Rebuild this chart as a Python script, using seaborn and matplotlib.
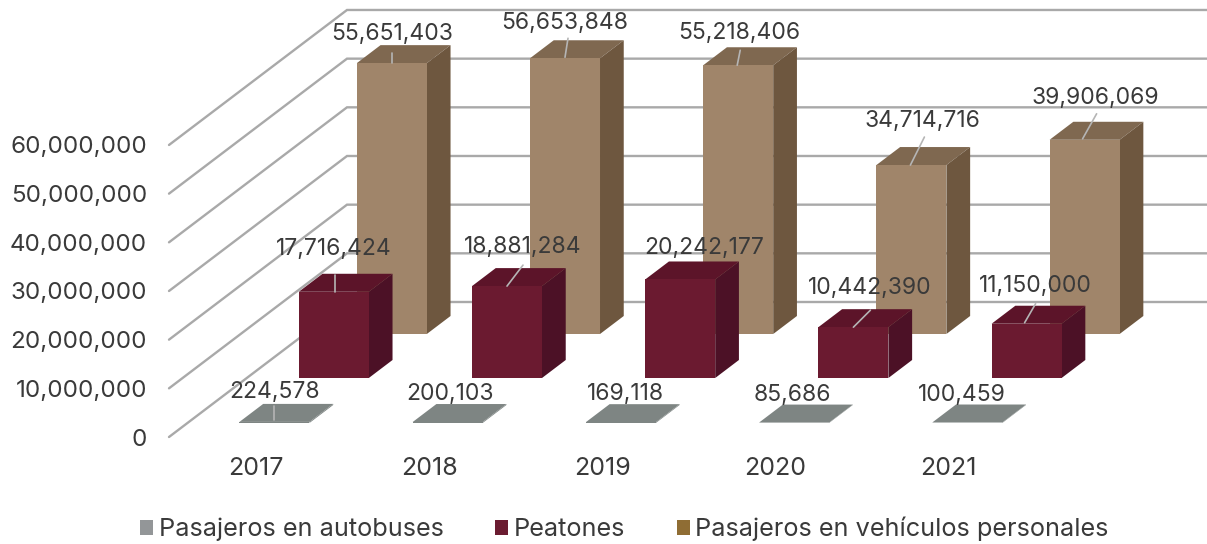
import matplotlib
matplotlib.use("Agg")
import matplotlib.pyplot as plt
import matplotlib.ticker as mticker
from matplotlib.patches import Patch, Polygon
from matplotlib.transforms import ScaledTranslation
import pandas as pd
import seaborn as sns

# ---- data ----
years = ["2017", "2018", "2019", "2020", "2021"]
autobuses = [224578, 200103, 169118, 85686, 100459]
peatones = [17716424, 18881284, 20242177, 10442390, 11150000]
vehiculos = [55651403, 56653848, 55218406, 34714716, 39906069]
series_names = ["Pasajeros en autobuses", "Peatones", "Pasajeros en vehículos personales"]
y_ticks = [0, 10000000, 20000000, 30000000, 40000000, 50000000, 60000000]

# ---- styles / layout ----
W, H = 1207, 544
PX_PER_CAT = 173.2
PX_PER_UNIT = 4.867e-6
X0_PX, Y0_PX = 256, 437
DEPTH_DX, DEPTH_DY = 178, 135
BAR_PX = 70
slot_px = [14, 59, 103]
thick_px = 18
grid_c = "#a9a9a9"
text_c = "#3a3a3a"
front = ["#7e8583", "#6b1a30", "#a0856a"]
top = ["#7e8583", "#5c1429", "#7f6850"]
side = ["#7e8583", "#4c1126", "#6e573f"]
legend_c = ["#939698", "#6b1c31", "#8f6d34"]

label_off = [
    [(0, 30), (2, 28), (5, 28), (-2, 28), (-5, 28)],
    [(0, 43), (16, 39), (24, 31), (16, 39), (9, 38)],
    [(0, 29), (0, 35), (1, 32), (11, 44), (11, 42)],
]
leader = [
    [(0, 2, 0, 16), None, None, None, None],
    [(1, 0, 1, 17), (0, 0, 16, 21), None, (0, 0, 17, 17), (-2, 1, 9, 20)],
    [(0, 0, 0, 10), (0, 1, 3, 20), (-1, 0, 2, 15), (-1, 0, 13, 28), (-2, 1, 12, 26)],
]

sns.set_theme(style="white")
plt.rcParams["font.family"] = ["Inter", "DejaVu Sans"]
plt.rcParams["font.size"] = 17

fig = plt.figure(figsize=(W / 100, H / 100), dpi=100)
ax = fig.add_axes([0, 0, 1, 1])
ax.patch.set_visible(False)

df = pd.DataFrame({
    "Año": years * 3,
    "Serie": sum([[n] * len(years) for n in series_names], []),
    "Valor": autobuses + peatones + vehiculos,
})
sns.barplot(data=df, x="Año", y="Valor", hue="Serie", hue_order=series_names,
            palette=front, dodge=False, width=BAR_PX / PX_PER_CAT,
            legend=False, ax=ax, linewidth=0, saturation=1)

ax.set_xlim(-X0_PX / PX_PER_CAT, (W - X0_PX) / PX_PER_CAT)
ax.set_ylim(-(H - Y0_PX) / PX_PER_UNIT, Y0_PX / PX_PER_UNIT)


def dx_u(px):
    return px / PX_PER_CAT


def dy_u(px):
    return px / PX_PER_UNIT


def depth_x(dy_px):
    return dy_px * DEPTH_DX / DEPTH_DY


# gridlines: side wall diagonal then back wall
xl = -X0_PX / PX_PER_CAT + dx_u(169)
xb = xl + dx_u(DEPTH_DX)
xr = ax.get_xlim()[1]
for t in y_ticks:
    ax.plot([xl, xb, xr], [t, t + dy_u(DEPTH_DY), t + dy_u(DEPTH_DY)],
            color=grid_c, lw=1.7, zorder=1, solid_joinstyle="miter")

# bars: move front faces back in depth, add top and side faces
for s, cont in enumerate(ax.containers):
    off_y = slot_px[s]
    z = 10 - 2 * s
    vals = [autobuses, peatones, vehiculos][s]
    for i, bar in enumerate(cont.patches):
        sx = dx_u(depth_x(off_y))
        bar.set_x(bar.get_x() + sx)
        bar.set_y(dy_u(off_y))
        x0, x1 = bar.get_x(), bar.get_x() + bar.get_width()
        y0, y1 = bar.get_y(), bar.get_y() + bar.get_height()
        ddx, ddy = dx_u(depth_x(thick_px)), dy_u(thick_px)
        ax.add_patch(Polygon([(x0, y1), (x1, y1), (x1 + ddx, y1 + ddy), (x0 + ddx, y1 + ddy)],
                             closed=True, fc=top[s], ec="none", zorder=z))
        ax.add_patch(Polygon([(x1, y0), (x1 + ddx, y0 + ddy), (x1 + ddx, y1 + ddy), (x1, y1)],
                             closed=True, fc=side[s], ec="none", zorder=z))
        bar.set_zorder(z + 0.5)
        xc, yc = (x0 + x1) / 2, y1
        if leader[s][i] is not None:
            a, b, c, d = leader[s][i]
            ax.plot([xc + dx_u(a), xc + dx_u(c)], [yc + dy_u(b), yc + dy_u(d)],
                    color="#b5b5b5", lw=1.2, zorder=20)
        ox, oy = label_off[s][i]
        ax.annotate(f"{vals[i]:,}", xy=(xc, yc), xytext=(ox, oy), textcoords="offset pixels",
                    ha="center", va="center", color=text_c, fontsize=16.5, zorder=30)

# axes furniture
sns.despine(ax=ax, left=True, bottom=True)
ax.grid(False)
ax.set_xlabel("")
ax.set_ylabel("")
ax.set_yticks(y_ticks)
ax.yaxis.set_major_formatter(mticker.StrMethodFormatter("{x:,.0f}"))
ax.set_xticks(range(len(years)))
ax.set_xticklabels(years)
ax.tick_params(axis="y", length=0, pad=-147 * 0.72, labelsize=17.4, labelcolor=text_c)
ax.tick_params(axis="x", length=0, pad=-87 * 0.72, labelsize=18, labelcolor=text_c)
shift = ScaledTranslation(0, -2.5 / 100, fig.dpi_scale_trans)
for lab in ax.get_yticklabels():
    lab.set_va("center")
    lab.set_transform(lab.get_transform() + shift)

handles = [Patch(fc=c, ec="none") for c in legend_c]
ax.legend(handles, series_names, ncol=3, frameon=False, loc="center",
          bbox_to_anchor=(624.5 / W, 1 - 529 / H), fontsize=18.2, labelcolor=text_c,
          handlelength=0.51, handleheight=0.51, handletextpad=0.22, columnspacing=2.05,
          borderpad=0, borderaxespad=0)

fig.savefig("out.png", dpi=100, facecolor="white")
